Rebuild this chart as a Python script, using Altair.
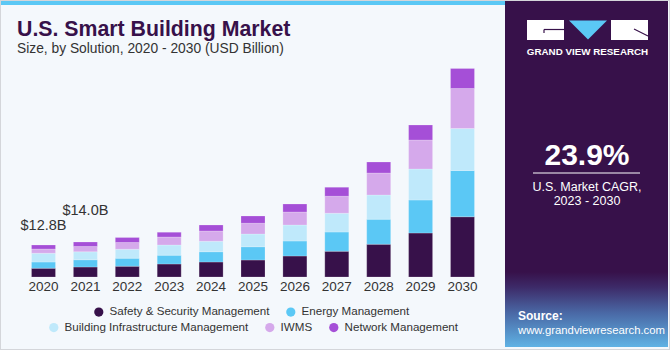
import altair as alt
import pandas as pd

years = ["2020", "2021", "2022", "2023", "2024", "2025", "2026", "2027", "2028", "2029", "2030"]
solutions = ["Safety & Security Management", "Energy Management",
             "Building Infrastructure Management", "IWMS", "Network Management"]
colors = ["#37114a", "#5bc8f5", "#bfe9fb", "#d5a9eb", "#a54fd7"]

safety = [3.5, 4.0, 4.3, 5.2, 6.0, 6.8, 8.4, 10.3, 13.1, 17.6, 24.1]
energy = [2.5, 2.9, 3.2, 3.5, 4.1, 5.3, 6.0, 7.7, 10.0, 13.2, 18.5]
building = [3.5, 3.2, 3.6, 4.1, 4.2, 5.1, 6.4, 7.5, 9.7, 12.4, 16.8]
iwms = [1.7, 2.1, 2.7, 3.2, 4.1, 4.3, 5.2, 6.8, 8.8, 11.6, 16.0]
network = [1.6, 1.8, 2.0, 1.9, 2.4, 2.9, 3.2, 3.6, 4.4, 6.0, 8.0]

label_years = ["2020", "2021"]
label_texts = ["$12.8B", "$14.0B"]

series = [safety, energy, building, iwms, network]
rows = []
for si, (name, vals) in enumerate(zip(solutions, series)):
    for y, v in zip(years, vals):
        rows.append({"year": y, "solution": name, "value": v, "ord": si})
df = pd.DataFrame(rows)

totals = df.groupby("year", as_index=False)["value"].sum()
lab = pd.DataFrame({"year": label_years, "text": label_texts})
lab = lab.merge(totals, on="year")

FONT = "Liberation Sans"
BG = "#f4f8fc"
DARK = "#37114a"

xs = alt.Scale(domain=years, range=[22, 484], paddingInner=0.427, paddingOuter=0.2265)
ys = alt.Scale(domain=[0, 100], range=[277, 27])

bars = alt.Chart(df).mark_bar(size=24, stroke="#ffffff", strokeOpacity=0.35, strokeWidth=0.6).encode(
    x=alt.X("year:O", scale=xs, axis=None),
    y=alt.Y("value:Q", stack="zero", scale=ys, axis=None),
    color=alt.Color("solution:N", scale=alt.Scale(domain=solutions, range=colors), legend=None),
    order=alt.Order("ord:Q"),
)

year_text = alt.Chart(pd.DataFrame({"year": years})).mark_text(
    font=FONT, fontSize=13.5, color="#333333", baseline="middle"
).encode(x=alt.X("year:O", scale=xs, axis=None), y=alt.value(287), text="year:N")

lab1 = alt.Chart(lab[lab.year == "2020"]).mark_text(
    font=FONT, fontSize=14.5, color="#333333", baseline="middle", dy=-19
).encode(x=alt.X("year:O", scale=xs, axis=None), y=alt.Y("value:Q", scale=ys, axis=None), text="text:N")
lab2 = alt.Chart(lab[lab.year == "2021"]).mark_text(
    font=FONT, fontSize=14.5, color="#333333", baseline="middle", dy=-31
).encode(x=alt.X("year:O", scale=xs, axis=None), y=alt.Y("value:Q", scale=ys, axis=None), text="text:N")

def leg_layer(cats, cols, lx, ly):
    d = pd.DataFrame({"solution": cats})
    return alt.Chart(d).mark_circle(opacity=0).encode(
        color=alt.Color("solution:N", scale=alt.Scale(domain=cats, range=cols),
                        legend=alt.Legend(orient="none", legendX=lx, legendY=ly, direction="horizontal",
                                          title=None, symbolType="circle", symbolSize=85,
                                          symbolOpacity=1, symbolStrokeWidth=0, labelFont=FONT,
                                          labelFontSize=11.6, labelColor="#333333", labelOffset=5,
                                          columnPadding=15, padding=0, labelLimit=400))
    )

leg1 = leg_layer(solutions[:2], colors[:2], 93, 306)
leg2 = leg_layer(solutions[2:], colors[2:], 48, 321.5)

one = pd.DataFrame({"a": [0]})

def rect(x, x2, y, y2, color, **kw):
    return alt.Chart(one).mark_rect(color=color, **kw).encode(
        x=alt.value(x), x2=alt.value(x2), y=alt.value(y), y2=alt.value(y2))

def rule(x, x2, y, y2, color, w=1):
    return alt.Chart(one).mark_rule(color=color, strokeWidth=w).encode(
        x=alt.value(x), x2=alt.value(x2), y=alt.value(y), y2=alt.value(y2))

def text(t, x, y, size, color, weight="normal", align="left", baseline="alphabetic", **kw):
    return alt.Chart(one).mark_text(text=t, font=FONT, fontSize=size, color=color, fontWeight=weight,
                                    align=align, baseline=baseline, **kw).encode(
        x=alt.value(x), y=alt.value(y))

stripe = rect(0, 505, 0, 5, "#5bc8f5")
panel = rect(505, 668, 0, 347, DARK)
grad = alt.Chart(one).mark_rect(
    color=alt.Gradient(gradient="linear", x1=0, y1=0, x2=0, y2=1,
                       stops=[alt.GradientStop(offset=0, color=DARK),
                              alt.GradientStop(offset=0.2, color="#3d2a68"),
                              alt.GradientStop(offset=0.55, color="#4a69a6"),
                              alt.GradientStop(offset=1, color="#5fb2e4")])
).encode(x=alt.value(505), x2=alt.value(668), y=alt.value(272), y2=alt.value(347))
border = alt.Chart(one).mark_rect(fill=None, stroke="#d4d6da", strokeWidth=2).encode(
    x=alt.value(0), x2=alt.value(670), y=alt.value(0), y2=alt.value(350))

title = text("U.S. Smart Building Market", 17, 36, 21.3, DARK, weight="bold")
subtitle = text("Size, by Solution, 2020 - 2030 (USD Billion)", 17, 53, 13.8, "#333333")

logo_l = rect(527, 564, 20, 40, "#ffffff")
logo_r = rect(611, 648, 20, 40, "#ffffff")
logo_g1 = rule(544, 564, 29.5, 29.5, DARK, 1.2)
logo_g2 = rule(544, 544, 29.5, 33, DARK, 1.2)
logo_r1 = rule(634, 648, 29, 36, DARK, 1.2)
logo_tri = alt.Chart(one).mark_point(
    shape="M-1,-0.5L1,-0.5L0,0.5Z", size=1444, filled=True, color="#5bc8f5", opacity=1, strokeWidth=0
).encode(x=alt.value(588), y=alt.value(30))
logo_txt = text("GRAND VIEW RESEARCH", 587.5, 55, 9.8, "#ffffff", weight="bold", align="center")

cagr = text("23.9%", 587, 165, 30, "#ffffff", weight="bold", align="center")
cagr_line = rule(533, 640, 173, 173, "#ffffff", 1)
cagr_t1 = text("U.S. Market CAGR,", 587, 191, 12.5, "#ffffff", align="center")
cagr_t2 = text("2023 - 2030", 587, 205, 12.5, "#ffffff", align="center")
src1 = text("Source:", 518, 320, 12, "#ffffff", weight="bold")
src2 = text("www.grandviewresearch.com", 518, 334, 11.3, "#ffffff")

chart = alt.layer(
    stripe, panel, grad, border, title, subtitle,
    bars, year_text, lab1, lab2, leg1, leg2,
    logo_l, logo_r, logo_g1, logo_g2, logo_r1, logo_tri, logo_txt,
    cagr, cagr_line, cagr_t1, cagr_t2, src1, src2,
).resolve_scale(color="independent").properties(
    width=670, height=350, autosize=alt.AutoSizeParams(type="none"), padding=0, background=BG
).configure_view(strokeWidth=0)

chart.save("out.html", embed_options={"renderer": "svg", "actions": False})
